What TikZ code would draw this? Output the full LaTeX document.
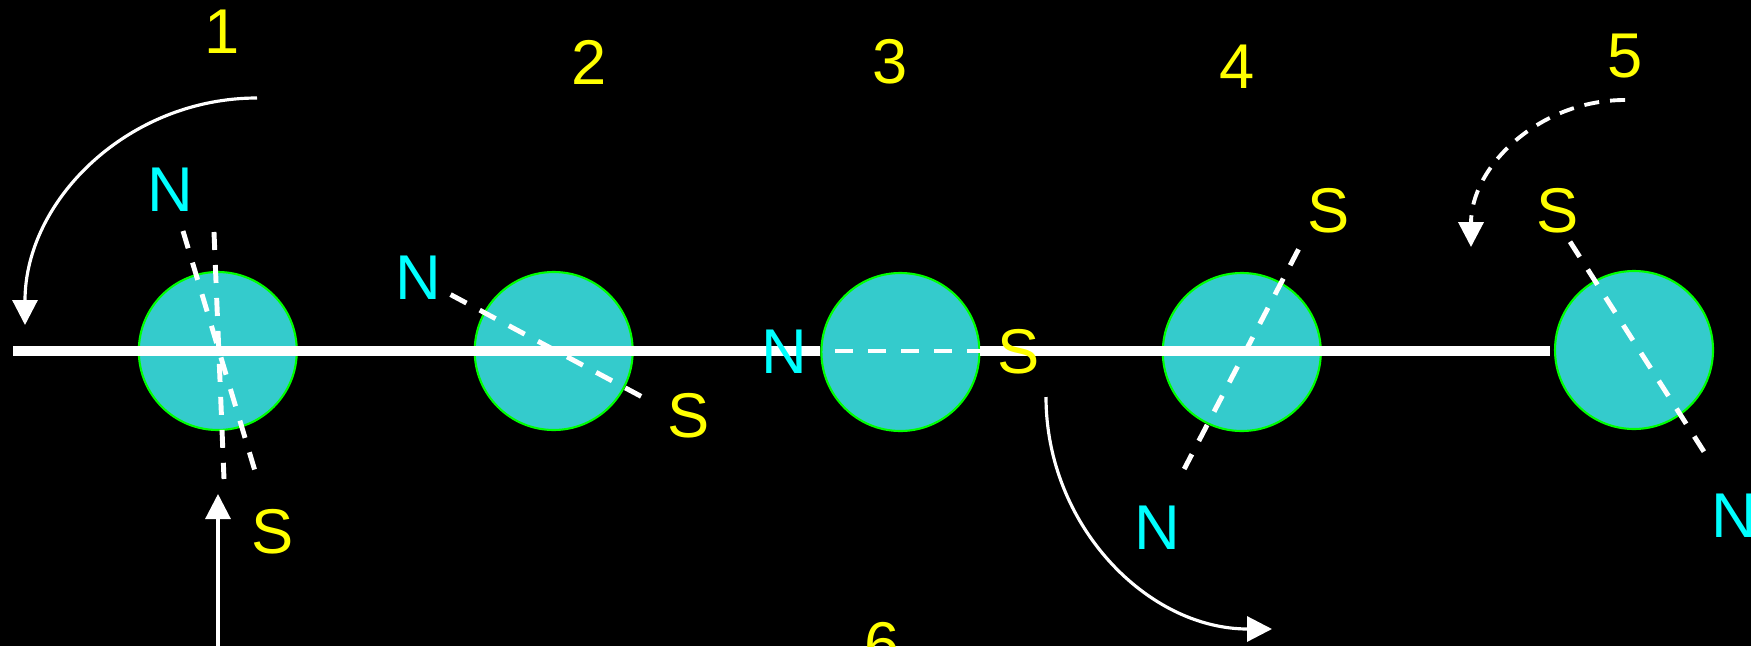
\documentclass[tikz,border=0pt]{standalone}
\usepackage{fontspec}
\setmainfont{Liberation Sans}
\usetikzlibrary{arrows.meta}
\definecolor{magfill}{HTML}{34CBCC}
\definecolor{magrim}{HTML}{00FF00}
\definecolor{polen}{HTML}{00FFFF}
\definecolor{poles}{HTML}{FFFF00}

\begin{document}
\begin{tikzpicture}[x=0.1mm, y=-0.1mm,
    magnet/.style={circle, minimum size=15.8mm, inner sep=0pt,
        fill=magfill, draw=magrim, line width=0.6pt},
    npole/.style={font=\fontsize{18}{18}\selectfont, text=polen, inner sep=0pt},
    spole/.style={font=\fontsize{18}{18}\selectfont, text=poles, inner sep=0pt},
    num/.style={font=\fontsize{18}{18}\selectfont, text=poles, inner sep=0pt},
    track/.style={white, line width=2.6pt},
    axisln/.style={white, line width=1.4pt, dash pattern=on 1.8mm off 1.5mm},
    arr/.style={-{Triangle[length=2.5mm, width=2.5mm]}, white, line width=0.9pt},
    darr/.style={-{Triangle[length=2.5mm, width=2.5mm]}, white, line width=1.1pt,
        dash pattern=on 1.5mm off 1.1mm},
]

\useasboundingbox[fill=black] (0,0) rectangle (1751,646);

% ===== Magnets =====
\node[magnet] (m1) at (217.8, 351) {};
\node[magnet] (m2) at (553.7, 351) {};
\node[magnet] (m3) at (900.4, 352) {};
\node[magnet] (m4) at (1241.8, 352) {};
\node[magnet] (m5) at (1634, 350) {};

% ===== Track =====
\coordinate (trackL) at (13, 351);
\coordinate (trackR) at (1550, 351);
\draw[track] (trackL) -- (trackL -| m3.west);
\draw[track] (trackL -| m3.east) -- (trackR);

% ===== Magnet axes =====
\coordinate (a1n) at (183, 231);
\coordinate (a1s) at (255, 471);
\coordinate (b1n) at (214, 232);
\coordinate (b1s) at (224, 479);
\draw[axisln] (a1n) -- (a1s);
\draw[axisln] (b1n) -- (b1s);

\coordinate (a2n) at (450.6, 294.6);
\coordinate (a2s) at (645.7, 398.8);
\draw[axisln] (a2n) -- (a2s);

\coordinate (a3n) at (835, 351);
\coordinate (a3s) at (980, 351);
\draw[axisln] (a3n) -- (a3s);

\coordinate (a4s) at (1298.5, 249.3);
\coordinate (a4n) at (1184.2, 469);
\draw[axisln] (a4s) -- (a4n);

\coordinate (a5s) at (1570, 241.7);
\coordinate (a5n) at (1706.7, 456);
\draw[axisln] (a5s) -- (a5n);

% ===== Pole labels =====
\node[npole] (n1) at (170.5, 189.5) {N};
\node[spole] (s1) at (272.5, 531.5) {S};
\node[npole] (n2) at (418.5, 277.5) {N};
\node[spole] (s2) at (688.5, 415.5) {S};
\node[npole] (n3) at (784, 352) {N};
\node[spole] (s3) at (1019, 352) {S};
\node[spole] (s4) at (1329, 211) {S};
\node[npole] (n4) at (1157.5, 528) {N};
\node[spole] (s5) at (1558, 211) {S};
\node[npole] (n5) at (1734.5, 516) {N};

% ===== Step numbers =====
\node[num] (k1) at (222, 32) {1};
\node[num] (k2) at (589, 62) {2};
\node[num] (k3) at (890.5, 62) {3};
\node[num] (k4) at (1237, 66.5) {4};
\node[num] (k5) at (1625, 56.5) {5};
\node[num] (k6) at (882, 644.5) {6};

% ===== Turning arrows =====
\coordinate (r1) at (257, 98);
\draw[arr] (r1) arc[start angle=-90, end angle=-180, x radius=232, y radius=227];

\coordinate (up0) at (218, 646);
\coordinate (up1) at (218, 494);
\draw[arr] (up0) -- (up1);

\coordinate (r4) at (1046, 397);
\draw[arr] (r4) arc[start angle=180, end angle=90, x radius=226, y radius=232];

\coordinate (r5) at (1625, 100);
\draw[darr] (r5) arc[start angle=-90, end angle=-180, x radius=154, y radius=147];

\end{tikzpicture}
\end{document}
